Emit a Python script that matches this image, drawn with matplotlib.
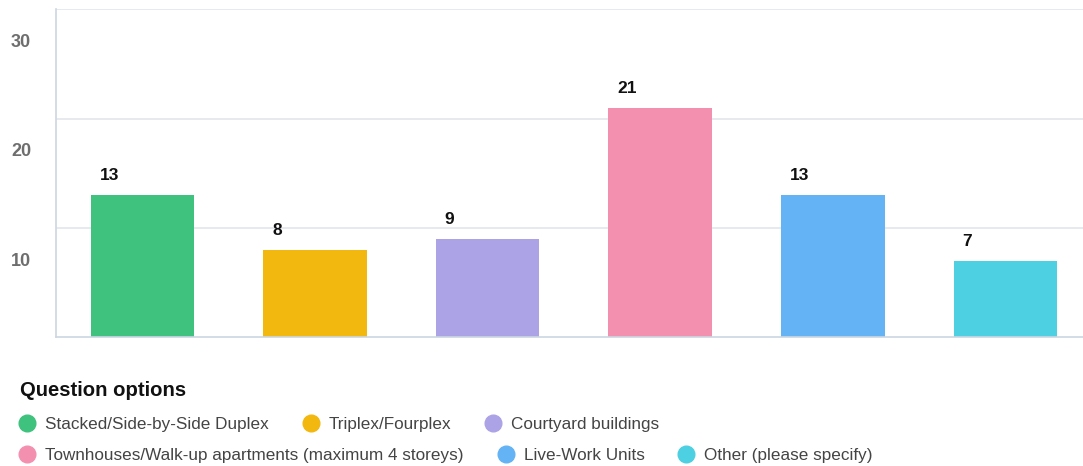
import matplotlib
matplotlib.use("Agg")
import matplotlib.pyplot as plt
from matplotlib.lines import Line2D

plt.rcParams['font.family'] = ['Liberation Sans', 'DejaVu Sans']

# data
categories = ["Stacked/Side-by-Side Duplex", "Triplex/Fourplex", "Courtyard buildings",
              "Townhouses/Walk-up apartments (maximum 4 storeys)", "Live-Work Units",
              "Other (please specify)"]
counts = [13, 8, 9, 21, 13, 7]
colors = ["#3ec27e", "#f2b80f", "#aca2e6", "#f390b0", "#63b3f5", "#4dd0e1"]
yticks = [10, 20, 30]
legend_rows = [[0, 1, 2], [3, 4, 5]]

W, H = 1083, 466
fig = plt.figure(figsize=(W / 100, H / 100), dpi=100)
ax = fig.add_axes([56 / W, (H - 337) / H, (W - 56) / W, (337 - 9.5) / H])

x = list(range(len(counts)))
ax.bar(x, counts, width=0.6, color=colors, zorder=2)
for xi, v in zip(x, counts):
    ax.annotate(str(v), (xi - 0.3, v), xytext=(6.5, 14), textcoords="offset points",
                ha="left", va="center", fontsize=12.5, fontweight="bold", color="#111111")

ax.set_xlim(-0.5, 5.45)
ax.set_ylim(0, 30)
ax.set_xticks([])
ax.set_yticks(yticks)
ax.set_yticklabels([])
ax.tick_params(axis="y", length=0)
for t in yticks:
    ax.annotate(str(t), (0, t), xycoords=("axes fraction", "data"), xytext=(-18, -24),
                textcoords="offset points", ha="right", va="center",
                fontsize=13, fontweight="bold", color="#6e6e6e")
ax.grid(axis="y", color="#e1e5eb", linewidth=1.2, zorder=0)
for s in ["top", "right"]:
    ax.spines[s].set_visible(False)
ax.spines["left"].set_color("#ccd6e2")
ax.spines["bottom"].set_color("#ccd6e2")
ax.spines["left"].set_linewidth(1.2)
ax.spines["bottom"].set_linewidth(1.2)

# legend, laid out like a flowing html legend
fig.text(20 / W, 1 - 391 / H, "Question options", fontsize=14.6, fontweight="bold",
         color="#111111", ha="left", va="center")
renderer = fig.canvas.get_renderer()
row_y = [423, 454]
for r, row in enumerate(legend_rows):
    cx = 27
    y = 1 - row_y[r] / H
    for i in row:
        fig.add_artist(Line2D([cx / W], [y], marker="o", markersize=12, color=colors[i],
                              linestyle="none", transform=fig.transFigure))
        txt = fig.text((cx + 18) / W, y, categories[i], fontsize=12.3, color="#444444",
                       ha="left", va="center_baseline")
        bb = txt.get_window_extent(renderer)
        cx = bb.x1 + 42

fig.savefig("out.png", dpi=100)
